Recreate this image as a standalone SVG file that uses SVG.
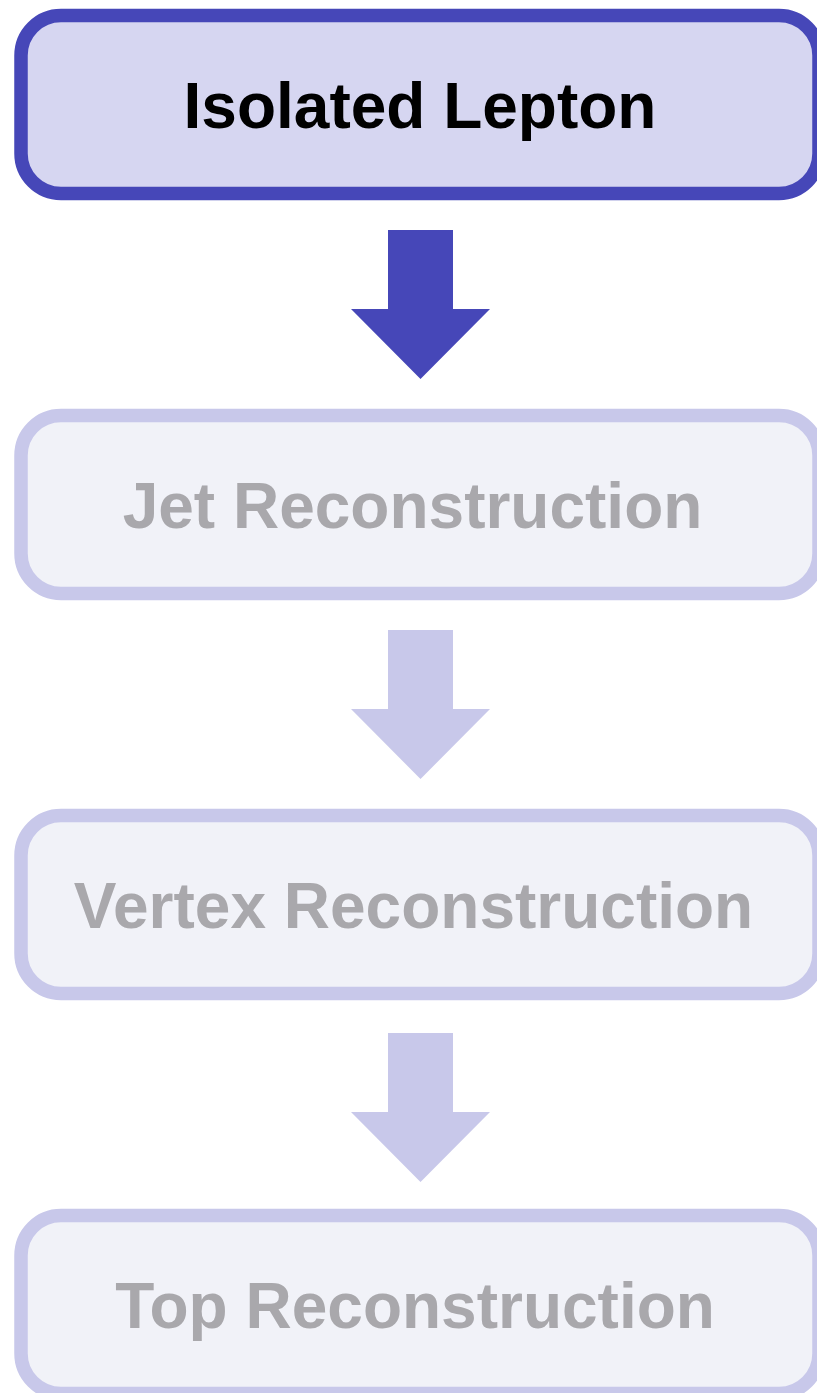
<svg xmlns="http://www.w3.org/2000/svg" width="817" height="1393" viewBox="0 0 817 1393">
  <style>
    .box { stroke-width: 13.5; }
    .active { fill: #D6D6F1; stroke: #4647B8; }
    .idle { fill: #F1F2F8; stroke: #C8C8EA; }
    .label { font-family: "Liberation Sans", Arial, Helvetica, sans-serif; font-weight: bold; font-size: 64px; text-anchor: middle; }
    .label-active { fill: #000000; }
    .label-idle { fill: #A9A8AC; }
    .arrow-active { fill: #4647B8; }
    .arrow-idle { fill: #C8C8EA; }
  </style>
  <defs>
    <path id="down-arrow" d="M388,0 H453 V79 H490 L420.5,149 L351,79 H388 Z"/>
  </defs>

  <rect width="817" height="1393" fill="#FFFFFF"/>

  <!-- pipeline steps -->
  <g id="node-isolated-lepton">
    <rect class="box active" x="21" y="15.5" width="798" height="178" rx="40" ry="40"/>
    <text class="label label-active" x="420" y="128">Isolated Lepton</text>
  </g>

  <g id="node-jet-reconstruction">
    <rect class="box idle" x="21" y="415.5" width="798" height="178" rx="40" ry="40"/>
    <text class="label label-idle" x="412.5" y="528">Jet Reconstruction</text>
  </g>

  <g id="node-vertex-reconstruction">
    <rect class="box idle" x="21" y="815.5" width="798" height="178" rx="40" ry="40"/>
    <text class="label label-idle" x="413.5" y="928">Vertex Reconstruction</text>
  </g>

  <g id="node-top-reconstruction">
    <rect class="box idle" x="21" y="1215.5" width="798" height="178" rx="40" ry="40"/>
    <text class="label label-idle" x="415" y="1328">Top Reconstruction</text>
  </g>

  <!-- block arrows between steps -->
  <g id="connectors">
    <use href="#down-arrow" class="arrow-active" transform="translate(0,230)"/>
    <use href="#down-arrow" class="arrow-idle" transform="translate(0,630)"/>
    <use href="#down-arrow" class="arrow-idle" transform="translate(0,1033)"/>
  </g>
</svg>
